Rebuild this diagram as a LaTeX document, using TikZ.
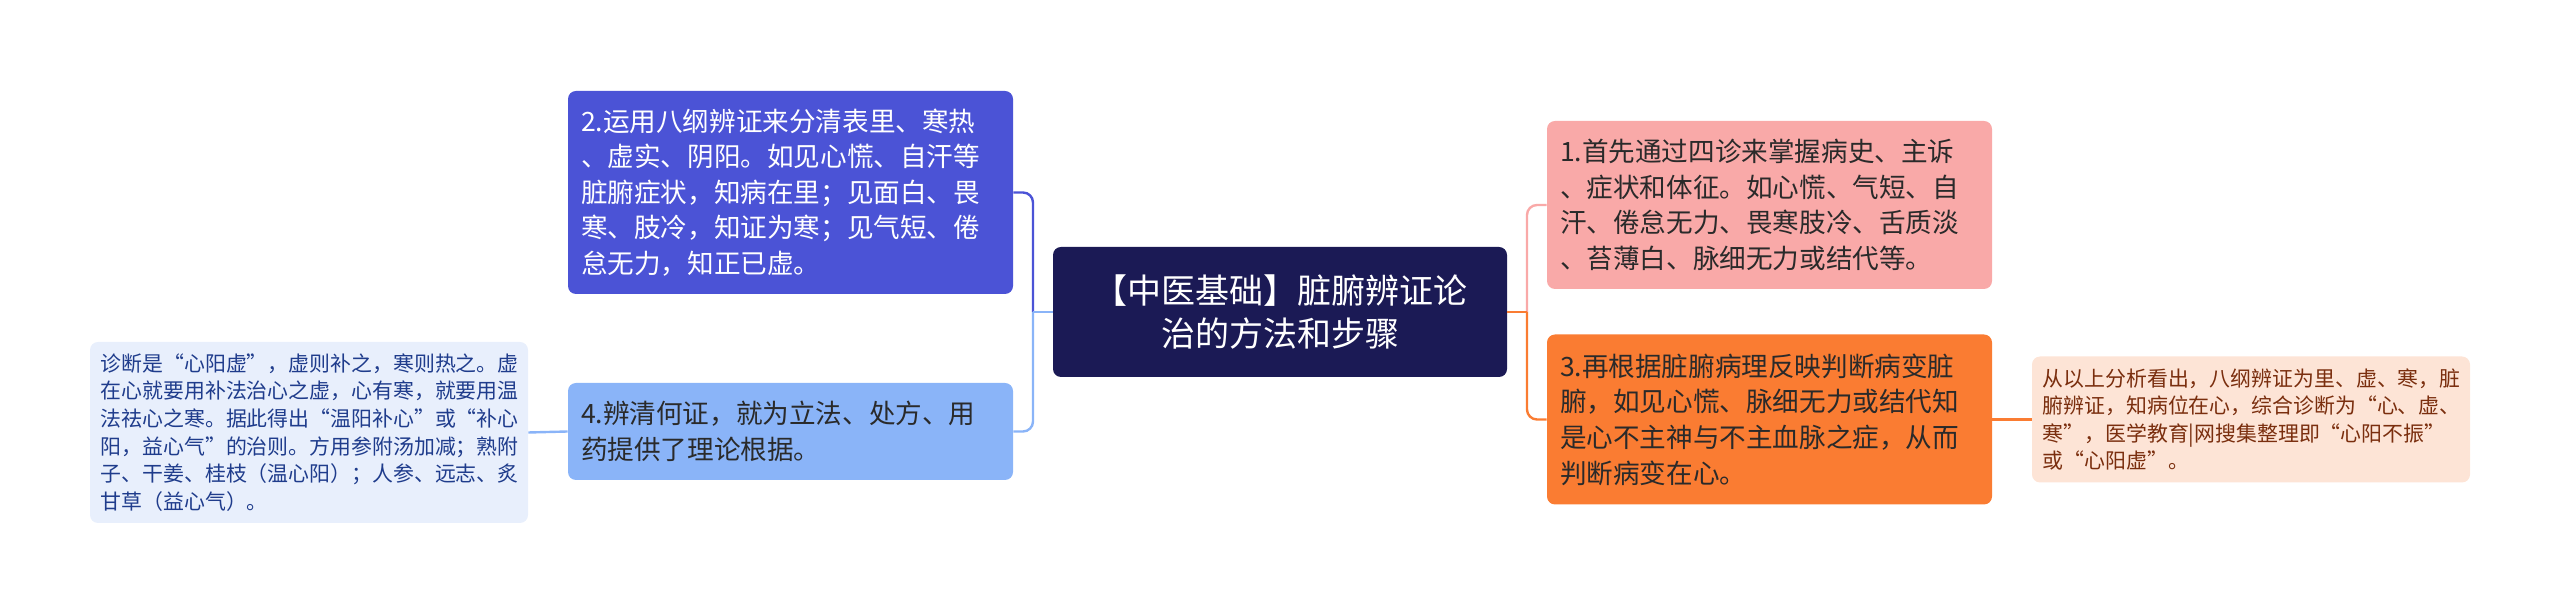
\documentclass[tikz,border=0pt]{standalone}
\usepackage{fontspec}
\setmainfont{Noto Sans CJK SC}
\usetikzlibrary{positioning,calc}
\definecolor{rootbg}{HTML}{1B1A55}
\definecolor{violetbg}{HTML}{4B53D6}
\definecolor{skybg}{HTML}{8AB4F8}
\definecolor{icebg}{HTML}{E8EFFC}
\definecolor{icetext}{HTML}{1F3C8C}
\definecolor{pinkbg}{HTML}{F9A9A8}
\definecolor{orangebg}{HTML}{FA7C32}
\definecolor{peachbg}{HTML}{FDE4D6}
\definecolor{peachtext}{HTML}{7A2E0E}
\definecolor{darktext}{HTML}{2A2A2A}
\tikzset{
  topic/.style={rounded corners=4pt, inner xsep=6.5pt, inner ysep=0pt, align=left,
    text width=209.5pt, font=\fontsize{13.3pt}{17.8pt}\selectfont},
  note/.style={rounded corners=4pt, inner xsep=5.3pt, inner ysep=0pt, align=left,
    text width=208.4pt, font=\fontsize{10.45pt}{13.8pt}\selectfont},
  link/.style={line width=1.2pt, rounded corners=5pt},
}
\begin{document}
\begin{tikzpicture}[x=0.5pt,y=-0.5pt]
  \useasboundingbox (0,0) rectangle (2560,613);
  % root
  \node[fill=rootbg, text=white, rounded corners=4pt, align=center,
    minimum width=227pt, minimum height=65pt, inner sep=0pt,
    font=\fontsize{17pt}{21.7pt}\selectfont] (root) at (1280,312)
    {【中医基础】脏腑辨证论\\治的方法和步骤};
  % left side
  \node[topic, fill=violetbg, text=white, minimum height=101.5pt] (step2) at (790.5,192.5)
    {2.运用八纲辨证来分清表里、寒热\\、虚实、阴阳。如见心慌、自汗等\\脏腑症状，知病在里；见面白、畏\\寒、肢冷，知证为寒；见气短、倦\\怠无力，知正已虚。};
  \node[topic, fill=skybg, text=darktext, minimum height=48.5pt] (step4) at (790.5,431.5)
    {4.辨清何证，就为立法、处方、用\\药提供了理论根据。};
  \node[note, fill=icebg, text=icetext, minimum height=90.5pt] (noteL) at (309,432.5)
    {诊断是“心阳虚”，虚则补之，寒则热之。虚\\在心就要用补法治心之虚，心有寒，就要用温\\法祛心之寒。据此得出“温阳补心”或“补心\\阳，益心气”的治则。方用参附汤加减；熟附\\子、干姜、桂枝（温心阳）；人参、远志、炙\\甘草（益心气）。};
  % right side
  \node[topic, fill=pinkbg, text=darktext, minimum height=84pt] (step1) at (1769.5,205)
    {1.首先通过四诊来掌握病史、主诉\\、症状和体征。如心慌、气短、自\\汗、倦怠无力、畏寒肢冷、舌质淡\\、苔薄白、脉细无力或结代等。};
  \node[topic, fill=orangebg, text=darktext, minimum height=85pt] (step3) at (1769.5,419.5)
    {3.再根据脏腑病理反映判断病变脏\\腑，如见心慌、脉细无力或结代知\\是心不主神与不主血脉之症，从而\\判断病变在心。};
  \node[note, fill=peachbg, text=peachtext, minimum height=63pt] (noteR) at (2251,419.5)
    {从以上分析看出，八纲辨证为里、虚、寒，脏\\腑辨证，知病位在心，综合诊断为“心、虚、\\寒”，医学教育|网搜集整理即“心阳不振”\\或“心阳虚”。};
  % connectors
  \coordinate (jl) at (1033,312);
  \coordinate (jr) at (1527,312);
  \draw[link, violetbg] (jl) |- (step2.east);
  \draw[link, skybg] (jl) |- (step4.east);
  \draw[link, skybg] (root.west) -- (jl);
  \draw[link, skybg] (step4.west) -- (noteL.east);
  \draw[link, pinkbg] (jr) |- (step1.west);
  \draw[link, orangebg] (jr) |- (step3.west);
  \draw[link, orangebg] (root.east) -- (jr);
  \draw[link, orangebg] (step3.east) -- (noteR.west);
\end{tikzpicture}
\end{document}
